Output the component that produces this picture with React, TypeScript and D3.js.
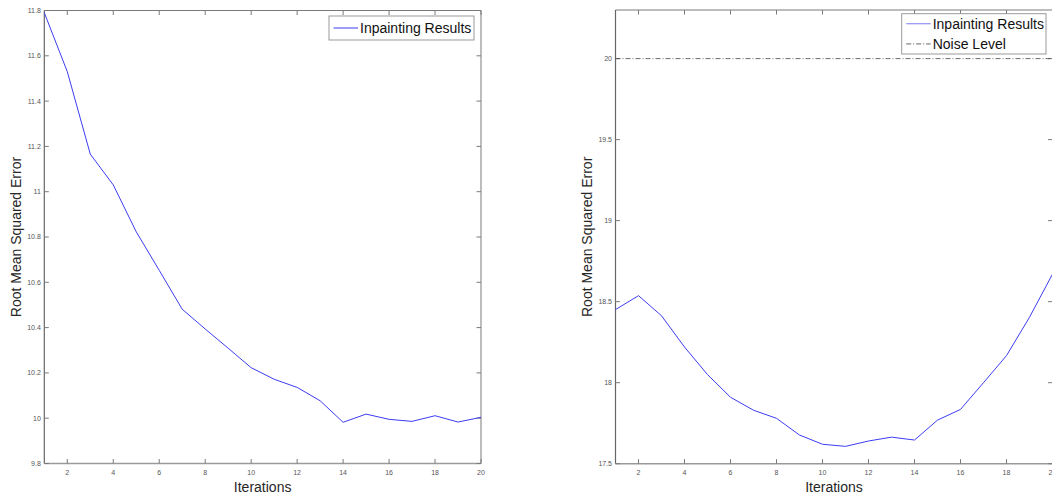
import React, { useEffect, useRef } from 'react';
import * as d3 from 'd3';

const iterations = d3.range(1, 21);
const leftRmse = [11.79, 11.53, 11.166, 11.03, 10.823, 10.653, 10.481, 10.394, 10.309, 10.223,
  10.172, 10.136, 10.077, 9.982, 10.018, 9.995, 9.986, 10.011, 9.983, 10.004];
const rightRmse = [18.451, 18.537, 18.413, 18.22, 18.05, 17.91, 17.83, 17.78, 17.677, 17.62,
  17.607, 17.64, 17.664, 17.646, 17.769, 17.835, 18.0, 18.167, 18.404, 18.67];
const noiseLevel = 20;
const xTicks = [2, 4, 6, 8, 10, 12, 14, 16, 18, 20];
const leftYTicks = [9.8, 10, 10.2, 10.4, 10.6, 10.8, 11, 11.2, 11.4, 11.6, 11.8];
const rightYTicks = [17.5, 18, 18.5, 19, 19.5, 20];
const seriesName = 'Inpainting Results';
const noiseName = 'Noise Level';

const FONT = 'Liberation Sans, Arial, sans-serif';
const AXIS = '#7a7a7a';
const LINE = '#3d3df2';

type PanelOpts = {
  box: { left: number; right: number; top: number; bottom: number };
  yDomain: [number, number];
  yTicks: number[];
  values: number[];
  noise?: number;
  legend: { x: number; y: number; w: number; h: number };
  labelX: number;
};

function drawPanel(g: d3.Selection<SVGGElement, unknown, null, undefined>, o: PanelOpts) {
  const { box } = o;
  const x = d3.scaleLinear().domain([1, 20]).range([box.left, box.right]);
  const y = d3.scaleLinear().domain(o.yDomain).range([box.bottom, box.top]);
  const tl = 4.5;

  // box
  g.append('line').attr('x1', box.left).attr('x2', box.right).attr('y1', box.top).attr('y2', box.top)
    .attr('stroke', AXIS).attr('stroke-width', 1);
  g.append('line').attr('x1', box.right).attr('x2', box.right).attr('y1', box.top).attr('y2', box.bottom)
    .attr('stroke', AXIS).attr('stroke-width', 1);
  g.append('line').attr('x1', box.left).attr('x2', box.left).attr('y1', box.top).attr('y2', box.bottom)
    .attr('stroke', '#666').attr('stroke-width', 1.2);
  g.append('line').attr('x1', box.left).attr('x2', box.right).attr('y1', box.bottom).attr('y2', box.bottom)
    .attr('stroke', '#9a9a9a').attr('stroke-width', 1.6);

  // x ticks
  xTicks.forEach(t => {
    const px = x(t);
    g.append('line').attr('x1', px).attr('x2', px).attr('y1', box.bottom).attr('y2', box.bottom - tl)
      .attr('stroke', AXIS);
    g.append('line').attr('x1', px).attr('x2', px).attr('y1', box.top).attr('y2', box.top + tl)
      .attr('stroke', AXIS);
    g.append('text').attr('x', px).attr('y', box.bottom + 11).attr('text-anchor', 'middle')
      .attr('font-family', FONT).attr('font-size', 7).attr('fill', '#555').text(t);
  });

  // y ticks
  o.yTicks.forEach(t => {
    const py = y(t);
    g.append('line').attr('x1', box.left).attr('x2', box.left + tl).attr('y1', py).attr('y2', py)
      .attr('stroke', AXIS);
    g.append('line').attr('x1', box.right).attr('x2', box.right - tl).attr('y1', py).attr('y2', py)
      .attr('stroke', AXIS);
    g.append('text').attr('x', box.left - 3.5).attr('y', py).attr('dy', '0.35em').attr('text-anchor', 'end')
      .attr('font-family', FONT).attr('font-size', 7).attr('fill', '#555').text(String(t));
  });

  // axis labels
  g.append('text').attr('x', (box.left + box.right) / 2).attr('y', box.bottom + 28).attr('text-anchor', 'middle')
    .attr('font-family', FONT).attr('font-size', 14).attr('fill', '#262626').text('Iterations');
  g.append('text').attr('transform', `translate(${o.labelX},${(box.top + box.bottom) / 2}) rotate(-90)`)
    .attr('text-anchor', 'middle').attr('dy', '0.35em')
    .attr('font-family', FONT).attr('font-size', 14).attr('fill', '#262626').text('Root Mean Squared Error');

  // noise line
  if (o.noise !== undefined) {
    g.append('line').attr('x1', box.left).attr('x2', box.right).attr('y1', y(o.noise)).attr('y2', y(o.noise))
      .attr('stroke', '#444').attr('stroke-width', 0.8).attr('stroke-dasharray', '5,2,1,2');
  }

  // series
  const line = d3.line<number>().x((_, i) => x(iterations[i])).y(d => y(d));
  g.append('path').datum(o.values).attr('d', line).attr('fill', 'none')
    .attr('stroke', LINE).attr('stroke-width', 1);

  // legend
  const L = o.legend;
  g.append('rect').attr('x', L.x).attr('y', L.y).attr('width', L.w).attr('height', L.h)
    .attr('fill', '#fff').attr('stroke', '#999').attr('stroke-width', 1);
  const entries = o.noise !== undefined
    ? [{ name: seriesName, color: '#7b7bf0', dash: null }, { name: noiseName, color: '#666', dash: '5,2,1,2' }]
    : [{ name: seriesName, color: LINE, dash: null }];
  const rowH = L.h / entries.length;
  entries.forEach((e, i) => {
    const cy = L.y + rowH * (i + 0.5);
    const ln = g.append('line').attr('x1', L.x + 4.5).attr('x2', L.x + 29).attr('y1', cy).attr('y2', cy)
      .attr('stroke', e.color).attr('stroke-width', 1);
    if (e.dash) ln.attr('stroke-dasharray', e.dash);
    g.append('text').attr('x', L.x + 31).attr('y', cy).attr('dy', '0.36em')
      .attr('font-family', FONT).attr('font-size', 14).attr('fill', '#111').text(e.name);
  });
}

export default function App() {
  const ref = useRef<SVGSVGElement>(null);

  useEffect(() => {
    const svg = d3.select(ref.current);
    svg.selectAll('*').remove();
    drawPanel(svg.append('g'), {
      box: { left: 44.3, right: 481, top: 10.5, bottom: 463.5 },
      yDomain: [9.8, 11.8],
      yTicks: leftYTicks,
      values: leftRmse,
      legend: { x: 329, y: 16, w: 145, h: 24 },
      labelX: 16,
    });
    drawPanel(svg.append('g'), {
      box: { left: 615.5, right: 1052.5, top: 10, bottom: 463.7 },
      yDomain: [17.5, 20.3],
      yTicks: rightYTicks,
      values: rightRmse,
      noise: noiseLevel,
      legend: { x: 901.7, y: 13.7, w: 144.3, h: 40.3 },
      labelX: 587,
    });
  }, []);

  return (
    <div style={{ position: 'fixed', left: 0, top: 0, width: 1052, height: 498, overflow: 'hidden', background: '#fff' }}>
      <svg ref={ref} width={1052} height={498} style={{ display: 'block' }} />
    </div>
  );
}
